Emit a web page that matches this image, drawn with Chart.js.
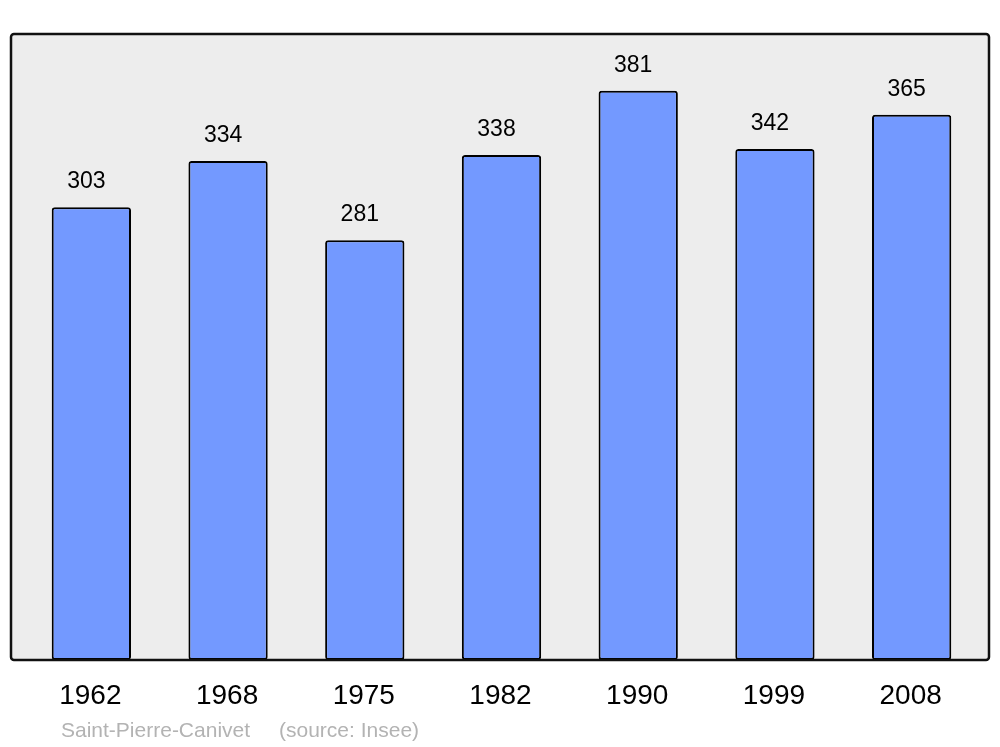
<!DOCTYPE html>
<html>
<head>
<meta charset="utf-8">
<script src="https://cdn.jsdelivr.net/npm/chart.js@4/dist/chart.umd.min.js"></script>
<style>
  body { margin: 0; background: #ffffff; }
  canvas { display: block; }
</style>
</head>
<body>
<canvas id="popChart" width="1000" height="747"></canvas>
<script>
// census years and population
var years = ['1962', '1968', '1975', '1982', '1990', '1999', '2008'];
var population = [303, 334, 281, 338, 381, 342, 365];
var yMax = 419;
var commune = 'Saint-Pierre-Canivet';
var sourceText = '(source: Insee)';

var FONT = '"Liberation Sans", Arial, sans-serif';

// grey frame behind the bars, stroke drawn over them
var framePlugin = {
    id: 'frame',
    beforeDatasetsDraw: function(chart) {
        var ctx = chart.ctx;
        ctx.save();
        ctx.beginPath();
        ctx.roundRect(11, 34, 978, 626, 3);
        ctx.fillStyle = '#ededed';
        ctx.fill();
        ctx.restore();
    },
    afterDatasetsDraw: function(chart) {
        var ctx = chart.ctx;
        var meta = chart.getDatasetMeta(0);
        var xs = chart.scales.x;
        ctx.save();
        ctx.beginPath();
        ctx.roundRect(11, 34, 978, 626, 3);
        ctx.lineWidth = 2.5;
        ctx.strokeStyle = '#111111';
        ctx.stroke();

        // values over the bars
        ctx.fillStyle = '#000000';
        ctx.font = '23px ' + FONT;
        ctx.textAlign = 'center';
        ctx.textBaseline = 'alphabetic';
        meta.data.forEach(function(bar, i) {
            ctx.fillText(String(population[i]), bar.x - 5, bar.y - 19);
        });

        // year labels
        ctx.font = '28px ' + FONT;
        ctx.textBaseline = 'middle';
        years.forEach(function(y, i) {
            ctx.fillText(y, xs.getPixelForValue(i) - 1, 696);
        });

        // source line
        ctx.fillStyle = '#b3b3b3';
        ctx.font = '21px ' + FONT;
        ctx.textAlign = 'left';
        ctx.textBaseline = 'alphabetic';
        ctx.fillText(commune, 61, 737);
        ctx.fillText(sourceText, 279, 737);
        ctx.restore();
    }
};

new Chart(document.getElementById('popChart'), {
    type: 'bar',
    data: {
        labels: years,
        datasets: [{
            data: population,
            backgroundColor: '#7399ff',
            borderColor: '#000000',
            borderWidth: 2,
            borderRadius: 3,
            borderSkipped: false,
            categoryPercentage: 1,
            barPercentage: 0.58
        }]
    },
    options: {
        responsive: false,
        animation: false,
        devicePixelRatio: 1,
        layout: { padding: { left: 23, right: 20, top: 34, bottom: 87 } },
        plugins: {
            legend: { display: false },
            tooltip: { enabled: false }
        },
        scales: {
            x: { display: false },
            y: { display: false, min: 0, max: yMax }
        }
    },
    plugins: [framePlugin]
});
</script>
</body>
</html>
